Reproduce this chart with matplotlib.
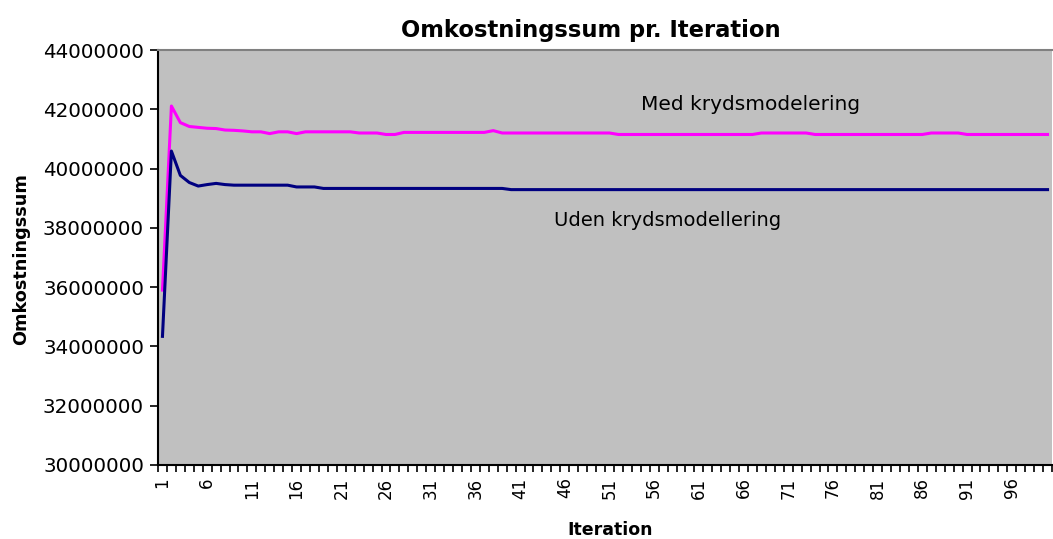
import matplotlib.pyplot as plt
from matplotlib.ticker import FixedLocator

# values in million
med = [35.90, 42.11, 41.55, 41.42, 41.39, 41.36, 41.35, 41.30, 41.29, 41.27,
       41.24, 41.24, 41.18, 41.24, 41.24, 41.18, 41.24, 41.24, 41.24, 41.24,
       41.24, 41.24, 41.20, 41.20, 41.20, 41.15, 41.15, 41.22, 41.22, 41.22,
       41.22, 41.22, 41.22, 41.22, 41.22, 41.22, 41.22, 41.28, 41.20, 41.20,
       41.20, 41.20, 41.20, 41.20, 41.20, 41.20, 41.20, 41.20, 41.20, 41.20,
       41.20, 41.15, 41.15, 41.15, 41.15, 41.15, 41.15, 41.15, 41.15, 41.15,
       41.15, 41.15, 41.15, 41.15, 41.15, 41.15, 41.15, 41.20, 41.20, 41.20,
       41.20, 41.20, 41.20, 41.15, 41.15, 41.15, 41.15, 41.15, 41.15, 41.15,
       41.15, 41.15, 41.15, 41.15, 41.15, 41.15, 41.20, 41.20, 41.20, 41.20,
       41.15, 41.15, 41.15, 41.15, 41.15, 41.15, 41.15, 41.15, 41.15, 41.15]
uden = [34.34, 40.59, 39.77, 39.53, 39.41, 39.46, 39.50, 39.46, 39.44, 39.44,
        39.44, 39.44, 39.44, 39.44, 39.44, 39.38, 39.38, 39.38] + [39.33] * 21 + [39.29] * 61

iterations = list(range(1, 101))
xlabels = list(range(1, 100, 5))
yticks = [30000000, 32000000, 34000000, 36000000, 38000000, 40000000, 42000000, 44000000]

fig = plt.figure(figsize=(10.53, 5.39), dpi=100)
ax = fig.add_axes([158 / 1053, 1 - 465 / 539, (1052 - 158) / 1053, (465 - 50) / 539])
ax.set_facecolor('#C0C0C0')

ax.plot(iterations, [v * 1e6 for v in med], color='#FF00FF', lw=2.2)
ax.plot(iterations, [v * 1e6 for v in uden], color='#000080', lw=2.2)

ax.set_xlim(0.5, 100.5)
ax.set_ylim(yticks[0], yticks[-1])
ax.set_yticks(yticks)
ax.set_yticklabels([str(t) for t in yticks], fontsize=14.3)
ax.set_xticks(xlabels)
ax.set_xticklabels([str(x) for x in xlabels], rotation=90, fontsize=12)
ax.xaxis.set_minor_locator(FixedLocator([i + 0.5 for i in range(0, 101)]))
ax.tick_params(axis='x', which='major', length=0, pad=9)
ax.tick_params(axis='x', which='minor', length=5, width=1.2, direction='out')
ax.tick_params(axis='y', length=6, width=1.2, direction='out', pad=4)

for s in ['left', 'bottom']:
    ax.spines[s].set_linewidth(1.5)
ax.spines['right'].set_visible(False)
ax.spines['top'].set_color('#808080')
ax.spines['top'].set_linewidth(1.5)

ax.text(66.8, 42170000, 'Med krydsmodelering', ha='center', va='center', fontsize=14.5)
ax.text(57.5, 38250000, 'Uden krydsmodellering', ha='center', va='center', fontsize=14)

fig.text(591 / 1053, 1 - 31 / 539, 'Omkostningssum pr. Iteration', ha='center', va='center',
         fontsize=16.3, fontweight='bold')
fig.text(21 / 1053, 1 - 259 / 539, 'Omkostningssum', ha='center', va='center',
         rotation=90, fontsize=12.7, fontweight='bold')
fig.text(610 / 1053, 1 - 530 / 539, 'Iteration', ha='center', va='center',
         fontsize=12.5, fontweight='bold')

fig.savefig('out.png', dpi=100)
